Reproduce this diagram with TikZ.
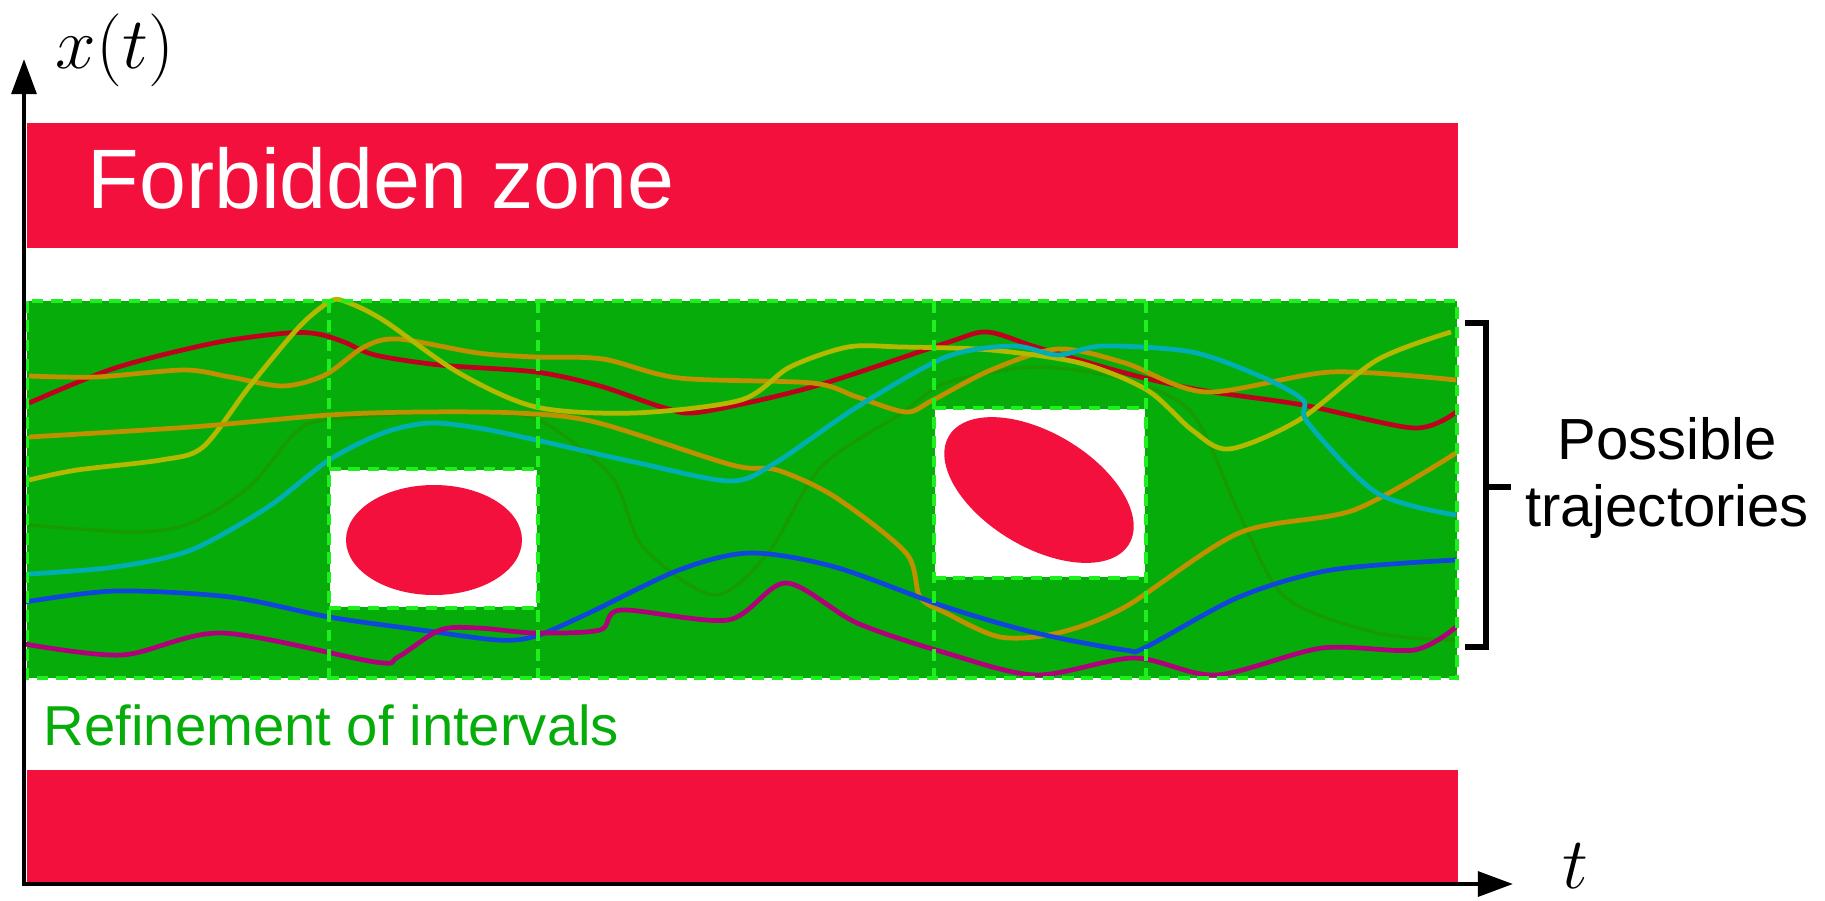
\documentclass[tikz,border=0pt]{standalone}
\usepackage{fontspec}
\setmainfont{Liberation Sans}
\usetikzlibrary{arrows.meta}
\definecolor{ZoneRed}{HTML}{F4103C}
\definecolor{BandGreen}{HTML}{06AD0A}
\definecolor{DashGreen}{HTML}{1EF01E}
\definecolor{TrajCrimson}{HTML}{C0001F}
\definecolor{TrajGold}{HTML}{C09000}
\definecolor{TrajOlive}{HTML}{B4B800}
\definecolor{TrajCyan}{HTML}{00AFB4}
\definecolor{TrajBlue}{HTML}{1046DC}
\definecolor{TrajMagenta}{HTML}{B0007A}
\definecolor{TrajFaint}{HTML}{169C00}

\begin{document}
\begin{tikzpicture}[
    x=0.01cm, y=-0.01cm,
    >={Triangle[length=10pt,width=7pt]},
    zonebar/.style={fill=ZoneRed},
    band/.style={fill=BandGreen},
    refline/.style={DashGreen, line width=1.3pt, dash pattern=on 3.3pt off 2.2pt},
    obstacle/.style={fill=ZoneRed},
    traj/.style={line width=1.35pt, line join=round},
    axisline/.style={->, line width=1.3pt},
    mathlabel/.style={inner sep=0pt, font=\fontsize{22}{26}\selectfont},
    bracket/.style={line width=1.6pt}
]
\useasboundingbox (0,0) rectangle (1825,900);

% forbidden zones
\fill[zonebar] (27,123) rectangle (1458,248);
\fill[zonebar] (27,770) rectangle (1458,882);
\node[anchor=base west, inner sep=0pt, text=white,
      font=\fontsize{24}{28}\selectfont] (forbid) at (87,208) {Forbidden zone};

% admissible band
\fill[band] (27,301) rectangle (1457,678);

\draw[traj, TrajFaint, line width=1pt] plot[smooth] coordinates {(29,525) (134,532) (191,523) (249,487) (295,433) (325,420) (421,413) (500,413) (545,423) (612,477) (643,547) (714,595) (768,553) (821,467) (902,413) (946,383) (1036,367) (1125,380) (1192,413) (1239,513) (1285,597) (1377,633) (1456,640)};
\draw[traj, TrajCrimson] plot[smooth] coordinates {(29,403) (115,368) (214,343) (287,333) (318,334) (344,342) (375,355) (440,365) (536,372) (600,386) (665,408) (701,412) (812,387) (946,343) (987,332) (1036,347) (1125,373) (1200,390) (1303,405) (1414,428) (1456,412)};
\draw[traj, TrajGold] plot[smooth] coordinates {(29,376) (96,377) (184,370) (230,377) (283,386) (325,375) (364,347) (398,339) (478,353) (536,357) (603,359) (679,378) (812,383) (857,397) (906,412) (933,400) (991,370) (1058,349) (1125,363) (1206,392) (1331,372) (1456,380)};
\draw[traj, TrajOlive] plot[smooth] coordinates {(29,480) (77,470) (161,460) (203,447) (249,387) (299,327) (329,302) (344,301) (383,320) (459,373) (536,407) (634,413) (741,400) (790,367) (848,347) (902,347) (991,350) (1080,363) (1147,390) (1192,430) (1229,449) (1299,420) (1377,360) (1451,332)};
\draw[traj, TrajGold] plot[smooth] coordinates {(29,437) (191,427) (329,415) (421,412) (517,413) (595,422) (732,465) (777,470) (835,497) (906,553) (920,597) (946,613) (1000,637) (1058,633) (1125,607) (1239,533) (1354,510) (1456,453)};
\draw[traj, TrajCyan] plot[smooth] coordinates {(29,574) (115,567) (191,550) (268,507) (329,460) (383,433) (429,423) (478,428) (536,440) (634,462) (730,481) (775,463) (857,407) (946,357) (1013,346) (1058,355) (1103,346) (1192,352) (1262,377) (1303,400) (1308,423) (1377,493) (1456,515)};
\draw[traj, TrajBlue] plot[smooth] coordinates {(25,602) (115,591) (230,597) (329,617) (421,630) (498,640) (536,636) (589,613) (679,570) (750,553) (835,567) (946,607) (1036,633) (1125,650) (1146,647) (1239,597) (1331,570) (1456,560)};
\draw[traj, TrajMagenta] plot[smooth] coordinates {(25,644) (122,655) (222,633) (375,662) (398,657) (440,630) (478,628) (536,633) (600,630) (621,610) (728,620) (786,583) (857,623) (946,653) (1036,675) (1134,658) (1216,675) (1322,648) (1414,650) (1456,627)};

% obstacles
\fill[white] (330,470) rectangle (537,607);
\fill[white] (935,409) rectangle (1145,577);
\fill[obstacle] (434,540) ellipse [x radius=88, y radius=55];
\fill[obstacle, rotate around={-31:(1039,490)}] (1039,490) ellipse [x radius=105, y radius=57];

% interval refinement
\draw[refline] (27,301) rectangle (1457,678);
\draw[refline] (329,301) -- (329,678);
\draw[refline] (538,301) -- (538,678);
\draw[refline] (934,301) -- (934,678);
\draw[refline] (1146,301) -- (1146,678);
\draw[refline] (329,469) -- (538,469) (329,608) -- (538,608);
\draw[refline] (934,408) -- (1146,408) (934,578) -- (1146,578);
\node[anchor=base west, inner sep=0pt, text=BandGreen,
      font=\fontsize{16}{19}\selectfont] (refine) at (43,745) {Refinement of intervals};

% axes
\coordinate (origin) at (24,886);
\coordinate (ytip) at (24,59);
\coordinate (xtip) at (1513,884);
\draw[axisline] (origin) -- (ytip);
\draw[axisline] (22,884) -- (xtip);
\node[mathlabel] (xlabel) at (115,50) {$x(t)$};
\node[mathlabel] (tlabel) at (1575,866) {$t$};

% bracket
\coordinate (brtop) at (1465,323);
\coordinate (brbot) at (1465,647);
\coordinate (brmid) at (1511,487);
\draw[bracket] (brtop) -- (1486,323) -- (1486,647) -- (brbot);
\draw[bracket] (1486,487) -- (brmid);
\node[align=center, inner sep=0pt, font=\fontsize{16.5}{18.8}\selectfont]
  (trajtext) at (1667,478) {Possible\\trajectories};

\end{tikzpicture}
\end{document}
